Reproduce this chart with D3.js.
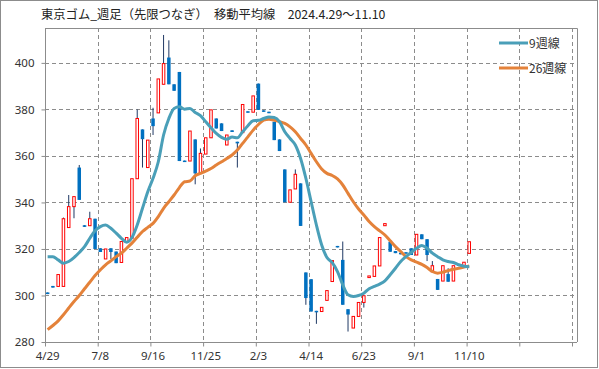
<!DOCTYPE html>
<html><head><meta charset="utf-8">
<script src="https://cdn.jsdelivr.net/npm/d3@7"></script>
<style>body{margin:0;background:#fff}svg{display:block}</style>
</head><body><svg id="c" width="599" height="369"></svg>
<script>
// ---- data (weekly, from 2024-04-29) ----
const startDate = "2024-04-29";
const totalWeeks = 100;
const tickLabels = ["4/29","7/8","9/16","11/25","2/3","4/14","6/23","9/1","11/10"];
const open  = [301.3,304.1,303.9,303.9,329.2,338.2,355,330.2,330,333,320.3,315.7,320.3,318.9,314.2,323.2,324.6,350.2,371.4,355,376.1,378.5,390.8,402.3,390.8,396.1,358,357.8,367.1,352.8,360.8,367.8,376.1,374,364.7,371,366.1,370,379.2,378.8,391.1,379.6,379,374.7,367.1,354.2,340.1,345.8,348.2,309.9,307,293.4,293.1,297.9,306,321.3,315.3,294.1,286,291,297,307.7,308.2,312.7,330,323.1,319.1,318.4,318.6,320.3,317.4,326.3,324.2,310.2,307.1,306.2,309.2,306.2,313.4,312.8,318.1];
const high  = [301.3,304.1,309,333.5,343.2,342.5,356.1,330.2,336,333,320.3,320,320.3,318.9,323.2,324.9,350.2,380,371.4,366.8,380.7,393.1,412,409.7,390.8,396.1,358,370.7,367.1,363.2,367.8,379.8,376.1,374,369,371,366.1,382.1,379.2,385.8,391.1,379.6,379,374.7,367.1,354.2,345.4,354.2,348.2,309.9,307,293.4,294.9,302.1,315,321.3,323.2,294.1,291,297,299.9,308.4,312.7,324.9,330.9,323.1,319.1,318.4,318.6,320.3,326.3,326.3,324.2,314.8,307.1,312.8,311.7,312.8,313.4,314.3,323.1];
const low   = [300.6,303.4,303.9,303.9,329.2,333.2,341.1,329.5,330,320,318.7,315.7,315.7,313.9,314.2,323.2,324.6,350.2,355,355,369,378.5,390.8,390.8,388,357.8,357.4,357.8,347.8,352.8,360.8,367.8,371.8,370.7,364.7,370.3,355,370,378.6,378.8,379.8,379,378.4,366.8,362.1,340.1,340.1,345.8,329.9,296,293.1,287.8,293.1,297.9,306,320.7,296,284.5,286,291,294.8,307.7,308.2,312.7,330,318.8,318.2,317.7,318,317.4,317.4,324.2,314.8,310.2,302.4,306.2,305.9,306.2,312.7,312.8,318.1];
const close = [300.6,303.4,309,333,338.2,342.5,341.1,329.5,333,320,318.7,320,318.7,313.9,323.2,324.9,350.2,376.1,367.2,366.8,372.8,393.1,399.7,390.8,388,357.8,357.4,370.7,352.5,361.1,367.8,379.8,371.8,370.7,369,370.3,365.4,382.1,378.6,385.8,379.8,379,378.4,366.8,362.1,340.1,345.4,352.1,329.9,298.9,293.1,292.8,294.9,302.1,315,320.7,296,291.8,291,297,299.9,308.4,312.7,324.9,330.9,318.8,318.2,317.7,318,317.4,326.3,324.2,317.4,312.8,302.4,312.8,305.9,312.8,312.7,314.3,323.1];
const ma9   = [316.7,316.7,315.3,313.9,314.6,316.3,318.5,321,324.6,327.8,329.6,330.3,328.9,326.8,324.6,322.9,324.9,330.3,337.5,344.6,350.4,357.5,369,376.1,380.4,381.1,380.1,380.4,378.7,377.3,374.7,372.1,369.7,368,367.2,368.1,367.8,370.4,373,375.1,375.3,376.1,376.7,376.5,374.7,370.4,367.5,364.7,358.9,350.4,340.3,330.3,321.7,316.3,314.1,310.3,304.6,300.3,299.6,300,301,302.9,303.9,304.9,306.3,308.9,311.7,314.6,316.7,318.5,320.3,321.5,320.3,318.2,316.7,315.3,314.6,314.2,313.2,312.6,312.4];
const ma26  = [285.3,287.1,289.1,291.7,294.6,297.4,300,302.9,305.7,308.6,311,313.2,314.9,316.7,318.2,320.3,322.5,325,327.5,329.3,331,333.9,337.5,340.3,343.2,346.4,348.9,349.2,351.5,352.5,353.5,354.6,356.1,357.5,358.9,360.4,362.5,365.4,368.2,371.1,373.5,375.4,375.8,375.4,374.7,374,372.5,370.4,367.5,364.7,361.1,357.5,354.4,352.5,351.6,350.1,347.5,343.9,340.3,337.2,334.6,331.8,329.6,327.8,326,323.5,321,318.9,316.7,315.3,314.3,313.4,312,310.3,309.6,310,310.7,311.3,311.7,312.2,312.7];
const yTicks = [280,300,320,340,360,380,400];
const seriesNames = ["9週線","26週線"];
const title = "東京ゴム_週足（先限つなぎ）　移動平均線　2024.4.29～11.10";

// ---- drawing ----
const svg = d3.select("#c");
const L = 45, R = 572, RB = 577, T = 28, B = 342;
const cUp = "#ff0000", cDown = "#0070c0", cWick = "#1f3864";
const cMA9 = "#4a9fb8", cMA26 = "#e4823a", cGrid = "#8c8c8c";
const font = "'Noto Sans CJK JP','Noto Sans',sans-serif";

svg.append("rect").attr("x",0.5).attr("y",0.5).attr("width",597).attr("height",367)
  .attr("fill","#fff").attr("stroke","#8c8c8c");

const x = d3.scaleBand().domain(d3.range(totalWeeks)).range([L, R]).padding(0);
const xl = d3.scaleLinear().domain([0, totalWeeks]).range([L, R]);
const y = d3.scaleLinear().domain([280, 415]).range([B, T]);
const cx = i => x(i) + x.bandwidth()/2;

// gridlines
const g = svg.append("g");
g.selectAll(".hg").data(yTicks.filter(v=>v>280)).join("line")
  .attr("x1",L).attr("x2",RB).attr("y1",d=>Math.round(y(d))+0.5).attr("y2",d=>Math.round(y(d))+0.5)
  .attr("stroke",cGrid).attr("stroke-dasharray","4,3");
g.selectAll(".vg").data(d3.range(10, totalWeeks+1, 10)).join("line")
  .attr("x1",d=>Math.round(xl(d))+0.5).attr("x2",d=>Math.round(xl(d))+0.5).attr("y1",T).attr("y2",B)
  .attr("stroke",cGrid).attr("stroke-dasharray","4,3");

// plot border (top/right)
svg.append("path").attr("d",`M${L},${T+0.5}H${RB+0.5}V${B}`).attr("fill","none").attr("stroke","#8c8c8c");

// axes
const ya = svg.append("g").attr("transform",`translate(${L+0.5},0)`)
  .call(d3.axisLeft(y).tickValues(yTicks).tickSize(4).tickPadding(7));
ya.select(".domain").attr("stroke","#8c8c8c").attr("d",`M0,${T}V${B+4}`);
ya.selectAll(".tick line").attr("stroke","#8c8c8c");
ya.selectAll("text").attr("font-family","'Noto Sans',sans-serif").attr("font-size",11.5).attr("fill","#333");

const xa = svg.append("g").attr("transform",`translate(0,${B+0.5})`)
  .call(d3.axisBottom(xl).tickValues(d3.range(0,totalWeeks+1,10)).tickSize(4).tickFormat(""));
xa.select(".domain").attr("stroke","#8c8c8c").attr("d",`M${L},0H${RB}`);
xa.selectAll(".tick line").attr("stroke","#8c8c8c");
const xb = svg.append("g").attr("transform",`translate(0,${B+0.5})`)
  .call(d3.axisBottom(x).tickValues(d3.range(0, tickLabels.length*10, 10)).tickSize(0).tickPadding(9)
    .tickFormat((d,i)=>tickLabels[i]));
xb.select(".domain").remove();
xb.selectAll("text").attr("font-family","'Noto Sans',sans-serif").attr("font-size",11.5).attr("fill","#333");

// candles
const n = close.length;
const idx = d3.range(n);
const bw = 3.5;
svg.append("g").selectAll("line").data(idx).join("line")
  .attr("x1",i=>cx(i)).attr("x2",i=>cx(i)).attr("y1",i=>y(high[i])).attr("y2",i=>y(low[i]))
  .attr("stroke",cWick).attr("stroke-width",1);
svg.append("g").selectAll("rect").data(idx).join("rect")
  .each(function(i){
    const up = close[i] >= open[i];
    const top = y(Math.max(open[i],close[i])), bot = y(Math.min(open[i],close[i]));
    const h = Math.max(bot-top, 1.5);
    const s = d3.select(this);
    if (up) {
      s.attr("x",cx(i)-bw/2+0.5).attr("width",bw-1).attr("y",top).attr("height",Math.max(h,1.5))
       .attr("fill","#fff").attr("stroke",cUp).attr("stroke-width",1);
    } else {
      s.attr("x",cx(i)-bw/2).attr("width",bw).attr("y",top).attr("height",h).attr("fill",cDown);
    }
  });

// moving averages
const line = d3.line().x((d,i)=>cx(i)).y(d=>y(d)).curve(d3.curveMonotoneX);
svg.append("path").datum(ma26).attr("d",line).attr("fill","none").attr("stroke",cMA26).attr("stroke-width",3);
svg.append("path").datum(ma9).attr("d",line).attr("fill","none").attr("stroke",cMA9).attr("stroke-width",3);

// legend
const lg = svg.append("g");
[[cMA9,43],[cMA26,68]].forEach(([c,yy],k)=>{
  lg.append("line").attr("x1",499).attr("x2",528).attr("y1",yy).attr("y2",yy).attr("stroke",c).attr("stroke-width",3);
  lg.append("text").attr("x",529).attr("y",yy+4.5).text(seriesNames[k])
    .attr("font-family",font).attr("font-size",12).attr("fill","#333");
});

// title
svg.append("text").attr("x",41).attr("y",19).text(title)
  .attr("font-family",font).attr("font-size",12.3).attr("fill","#222");
</script></body></html>
